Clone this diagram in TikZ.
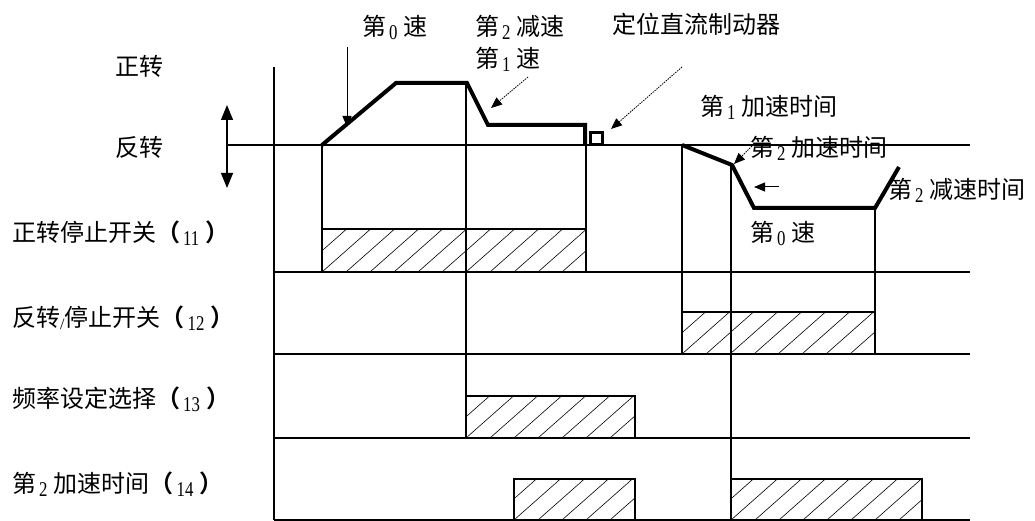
\documentclass[tikz,border=0pt]{standalone}
\usepackage{fontspec}
\newfontfamily\cjk{Noto Sans CJK SC}
\newfontfamily\cjkb{Noto Sans CJK SC Bold}
\newfontfamily\digf{Liberation Serif}
\usetikzlibrary{arrows.meta}
\newcommand\sdig[1]{\hspace{3pt}\raisebox{-4pt}{\digf\fontsize{21}{21}\selectfont\scalebox{0.8}[1]{#1}}\hspace{6pt}}
\newcommand\lpar{{\cjkb （}}
\newcommand\rpar{{\cjkb ）}}
\newcommand\hatchrect[4]{%
  \begin{scope}
    \clip (#1,#2) rectangle (#3,#4);
    \foreach \hx in {-72,-48,...,280} \draw[hatchline] ({#1+\hx},#4) -- ++(52,-46);
  \end{scope}
  \draw[gl] (#1,#4) |- (#3,#2) -- (#3,#4);}
\begin{document}
\begin{tikzpicture}[x=1pt,y=-1pt,
  gl/.style={line width=1.2pt},
  curve/.style={line width=4pt, line join=miter},
  hatchline/.style={line width=0.6pt},
  lab/.style={font=\cjk\fontsize{24}{24}\selectfont, inner sep=0pt, text height=20pt, text depth=2pt, anchor=west},
  ptr/.style={-{Triangle[length=11pt,width=9pt]}, line width=0.8pt, dash pattern=on 1.5pt off 1pt},
  sptr/.style={-{Triangle[length=11pt,width=9pt]}, line width=1pt},
  dbl/.style={{Triangle[length=15pt,width=12pt]}-{Triangle[length=15pt,width=12pt]}, line width=1.2pt}]
\useasboundingbox (0,0) rectangle (1035,521);

% grid
\draw[gl] (227,145) -- (970,145);
\draw[gl] (274,272) -- (970,272);
\draw[gl] (274,354) -- (970,354);
\draw[gl] (274,438) -- (970,438);
\draw[gl] (274,520) -- (970,520);
\draw[gl] (274,67) -- (274,520);
\draw[gl] (322,145) -- (322,272);
\draw[gl] (466,83) -- (466,438);
\draw[gl] (586,145) -- (586,272);
\draw[gl] (682,145) -- (682,354);
\draw[gl] (731,165) -- (731,520);
\draw[gl] (875,208) -- (875,354);

% hatched boxes
\hatchrect{322}{229}{586}{272}
\draw[gl] (466,229) -- (466,272);
\hatchrect{682}{312}{875}{354}
\draw[gl] (731,312) -- (731,354);
\hatchrect{466}{396}{635}{438}
\hatchrect{514}{479}{635}{520}
\hatchrect{731}{479}{922}{520}

% speed curves
\draw[curve] (322,145) -- (396,83) -- (467,83) -- (488,125) -- (585,125) -- (585,145);
\draw[line width=3pt] (590,133) rectangle (602,144.5);
\draw[curve] (682,145) -- (732,165) -- (754,208) -- (875,208) -- (899,167);

% double arrow
\coordinate (du) at (227,105);
\coordinate (dd) at (227,188);
\draw[dbl] (du) -- (dd);

% labels
\node[lab] (zz) at (115,67) {正转};
\node[lab] (fz) at (115,148) {反转};
\node[lab] (v0) at (362,27) {第\sdig{0}速};
\node[lab] (d2) at (475,27) {第\sdig{2}减速};
\node[lab] (v1) at (475,59) {第\sdig{1}速};
\node[lab] (dc) at (612,25) {定位直流制动器};
\node[lab] (a1) at (700,107) {第\sdig{1}加速时间};
\node[lab] (a2) at (750,148) {第\sdig{2}加速时间};
\node[lab] (dt2) at (888,190) {第\sdig{2}减速时间};
\node[lab] (v0b) at (750,233) {第\sdig{0}速};
\node[lab] (r1) at (12,233) {正转停止开关\lpar\sdig{11}\rpar};
\node[lab] (r2) at (12,317) {反转\raisebox{-3pt}{\digf\fontsize{16}{16}\selectfont /}停止开关\lpar\sdig{12}\rpar};
\node[lab] (r3) at (12,398) {频率设定选择\lpar\sdig{13}\rpar};
\node[lab] (r4) at (12,483) {第\sdig{2}加速时间\lpar\sdig{14}\rpar};

% pointer arrows
\coordinate (p0s) at (347,47);  \coordinate (p0e) at (347,127);
\draw[sptr] (p0s) -- (p0e);
\coordinate (p1s) at (528,77);  \coordinate (p1e) at (491,108);
\draw[ptr] (p1s) -- (p1e);
\coordinate (p2s) at (682,67);  \coordinate (p2e) at (611,129);
\draw[ptr] (p2s) -- (p2e);
\coordinate (p3s) at (752,146); \coordinate (p3e) at (734,164);
\draw[ptr] (p3s) -- (p3e);
\coordinate (p4s) at (779,187); \coordinate (p4e) at (754,187);
\draw[sptr] (p4s) -- (p4e);
\end{tikzpicture}
\end{document}
